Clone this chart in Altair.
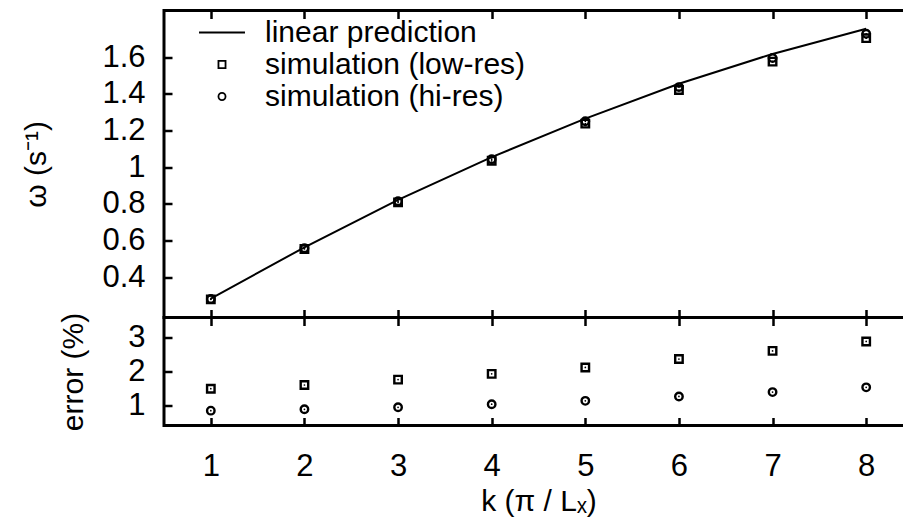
import altair as alt
import pandas as pd

# Wavenumber index and angular frequencies
k = [1, 2, 3, 4, 5, 6, 7, 8]
omega_linear = [0.283, 0.563, 0.822, 1.055, 1.265, 1.455, 1.618, 1.755]
omega_lowres = [0.279, 0.554, 0.808, 1.035, 1.238, 1.421, 1.576, 1.704]
omega_hires = [0.281, 0.558, 0.814, 1.044, 1.251, 1.437, 1.596, 1.728]

# Relative error of the simulations (%)
err_lowres = [1.49, 1.60, 1.76, 1.93, 2.12, 2.37, 2.61, 2.89]
err_hires = [0.84, 0.88, 0.94, 1.03, 1.13, 1.26, 1.39, 1.53]

series_names = ["linear prediction", "simulation (low-res)", "simulation (hi-res)"]
omega_ticks = [0.4, 0.6, 0.8, 1.0, 1.2, 1.4, 1.6]
err_ticks = [1, 2, 3]
k_ticks = k

FONT = "Liberation Sans"
W = 749
H_TOP = 307
H_BOT = 108
TICK = 8
TICK_W = 2.5
MARK_W = 2.4

line_df = pd.DataFrame({"k": k, "omega": omega_linear})
sim_df = pd.DataFrame({
    "k": k + k,
    "omega": omega_lowres + omega_hires,
    "series": [series_names[1]] * len(k) + [series_names[2]] * len(k),
})
low_df = pd.DataFrame({"k": k, "err": err_lowres})
hi_df = pd.DataFrame({"k": k, "err": err_hires})

x_scale = alt.Scale(domain=[0.5, 8.5], nice=False, zero=False)


def grid_axis(**kw):
    # inward-pointing ticks drawn as short dashes of the grid lines
    base = dict(grid=True, gridColor="black", gridOpacity=1, gridWidth=TICK_W,
                ticks=False, tickSize=0, domain=False)
    base.update(kw)
    return alt.Axis(**base)


# ---- upper panel: dispersion relation ----
x_top = alt.X("k:Q", scale=x_scale,
              axis=grid_axis(values=k_ticks, labels=False, title=None,
                             gridDash=[TICK, H_TOP - 2 * TICK, TICK, 600]))
y_top = alt.Y("omega:Q",
              scale=alt.Scale(domain=[0.18, 1.855], nice=False, zero=False),
              axis=grid_axis(values=omega_ticks, format="~g", title="ω (s⁻¹)",
                             gridDash=[TICK, 3000], labelPadding=19,
                             titlePadding=50))

line = alt.Chart(line_df).mark_line(color="black", strokeWidth=2).encode(
    x=x_top, y=y_top)

points = alt.Chart(sim_df).mark_point(
    filled=False, color="black", strokeWidth=MARK_W, size=56, opacity=1
).encode(
    x="k:Q", y="omega:Q",
    shape=alt.Shape(
        "series:N",
        scale=alt.Scale(domain=series_names,
                        range=["M-6.5,0H6.5", "square", "circle"]),
        legend=alt.Legend(
            title=None, orient="none", legendX=43, legendY=7, padding=0,
            labelFont=FONT, labelFontSize=30, labelColor="black",
            labelOffset=28, labelLimit=0, rowPadding=2, symbolSize=50,
            symbolStrokeColor="black", symbolStrokeWidth=1.8,
            symbolFillColor="transparent", symbolOpacity=1,
        ),
    ),
)

dots = alt.Chart(sim_df).mark_point(
    filled=True, color="black", size=3, shape="circle", opacity=1
).encode(x="k:Q", y="omega:Q")

top = alt.layer(line, points, dots).properties(width=W, height=H_TOP)

# ---- lower panel: relative error ----
x_bot = alt.X("k:Q", scale=x_scale,
              axis=grid_axis(values=k_ticks, format="d", title="k (π / Lₓ)",
                             gridDash=[TICK, H_BOT - 2 * TICK, TICK, 600],
                             labelPadding=26, titlePadding=5))
y_bot = alt.Y("err:Q",
              scale=alt.Scale(domain=[0.4, 3.6], nice=False, zero=False),
              axis=grid_axis(values=err_ticks, format="d", title="error (%)",
                             gridDash=[TICK, 3000], labelPadding=19,
                             titlePadding=39))

low_pts = alt.Chart(low_df).mark_point(
    shape="square", filled=False, color="black", strokeWidth=MARK_W, size=56, opacity=1
).encode(x=x_bot, y=y_bot)
hi_pts = alt.Chart(hi_df).mark_point(
    shape="circle", filled=False, color="black", strokeWidth=MARK_W, size=56, opacity=1
).encode(x="k:Q", y="err:Q")
low_dots = alt.Chart(low_df).mark_point(
    filled=True, color="black", size=3, shape="circle", opacity=1
).encode(x="k:Q", y="err:Q")
hi_dots = alt.Chart(hi_df).mark_point(
    filled=True, color="black", size=3, shape="circle", opacity=1
).encode(x="k:Q", y="err:Q")

bottom = alt.layer(low_pts, hi_pts, low_dots, hi_dots).properties(
    width=W, height=H_BOT)

chart = alt.vconcat(top, bottom, spacing=0, bounds="flush").properties(
    padding={"left": 20, "top": 8.5, "right": -12, "bottom": 0},
    background="white",
).configure_view(
    stroke="black", strokeWidth=3
).configure_axis(
    labelFont=FONT, titleFont=FONT, labelFontSize=31, titleFontSize=30,
    labelColor="black", titleColor="black", titleFontWeight="normal",
)

chart.save("out.html", embed_options={"renderer": "svg", "actions": False})
